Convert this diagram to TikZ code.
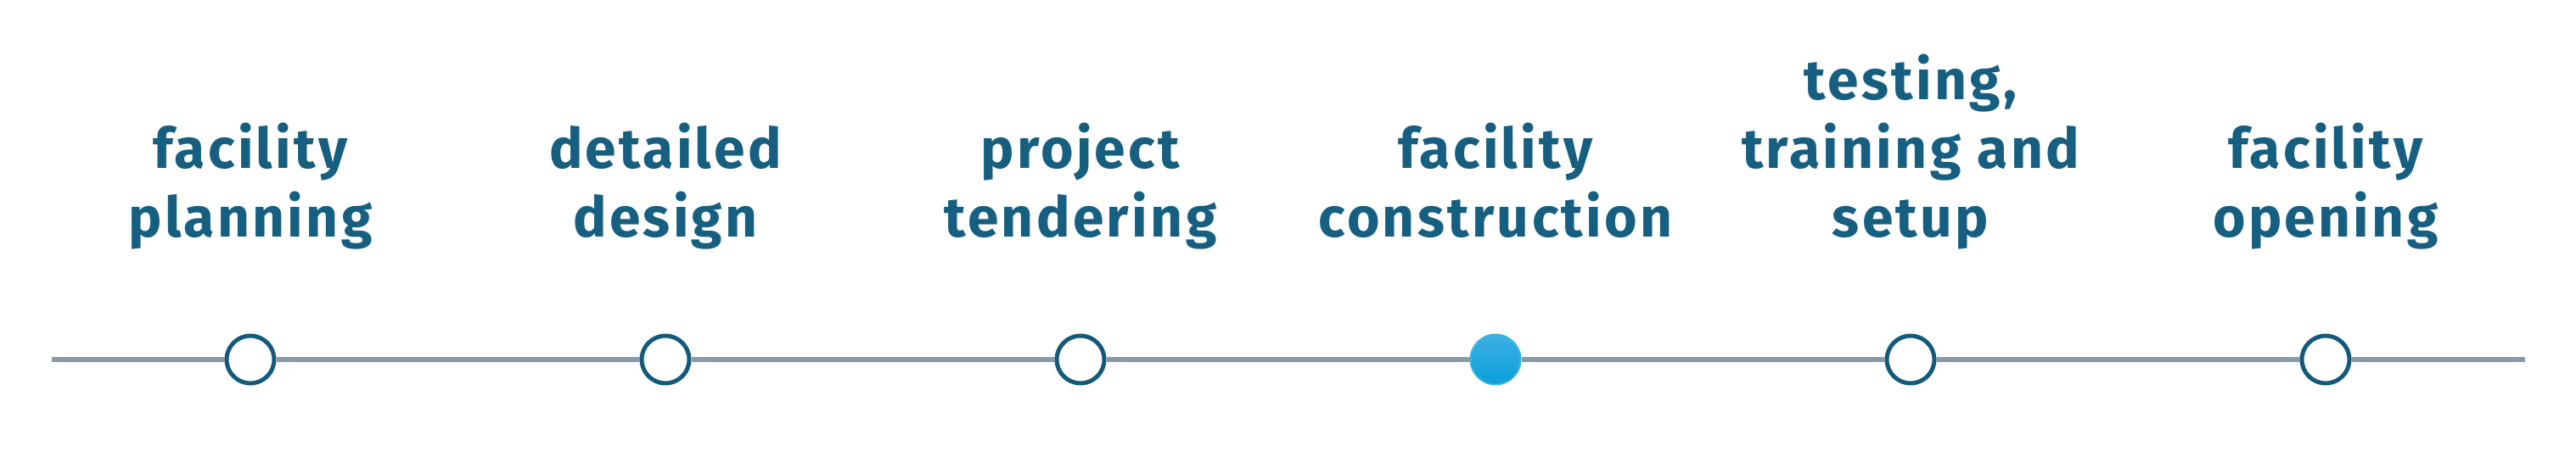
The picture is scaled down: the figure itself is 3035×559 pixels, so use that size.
\documentclass[tikz,border=0pt]{standalone}
\usepackage{fontspec}
\setmainfont{Fira Sans}[LetterSpace=5]
\definecolor{txtblue}{HTML}{165F80}
\definecolor{ringblue}{HTML}{135A7A}
\definecolor{linegray}{HTML}{8A9AA8}
\definecolor{dotblue}{HTML}{0AA0DA}
\definecolor{dottop}{HTML}{3DAFE2}
\begin{document}
\begin{tikzpicture}[x=1pt,y=1pt,
  ring/.style={circle,draw=ringblue,line width=5pt,fill=white,minimum size=56pt,inner sep=0pt},
  dot/.style={circle,draw=dotblue!80!white,line width=2pt,top color=dottop,bottom color=dotblue,minimum size=59pt,inner sep=0pt},
  label/.style={anchor=base,inner sep=0pt,text=txtblue,font=\bfseries\fontsize{66}{81}\selectfont},
  track/.style={draw=linegray,line width=6pt}]
\useasboundingbox (0,0) rectangle (3035,559);
\coordinate (start) at (61,135);
\coordinate (end) at (2975,135);
\node[ring] (c1) at (295,135) {};
\node[ring] (c2) at (784,135) {};
\node[ring] (c3) at (1273,135) {};
\node[dot]  (c4) at (1762,135) {};
\node[ring] (c5) at (2251,135) {};
\node[ring] (c6) at (2740,135) {};
\path[track] (start) -- (c1) (c1) -- (c2) (c2) -- (c3) (c3) -- (c4) (c4) -- (c5) (c5) -- (c6) (c6) -- (end);
\newcommand{\lbl}[1]{\parbox[b]{600pt}{\centering\fontsize{66}{81}\selectfont #1}}
\node[label] (t1) at (295,279) {\lbl{facility\\planning}};
\node[label] (t2) at (784,279) {\lbl{detailed\\design}};
\node[label] (t3) at (1273,279) {\lbl{project\\tendering}};
\node[label] (t4) at (1762,279) {\lbl{facility\\construction}};
\node[label] (t5) at (2251,279) {\lbl{testing,\\training and\\setup}};
\node[label] (t6) at (2740,279) {\lbl{facility\\opening}};
\end{tikzpicture}
\end{document}
